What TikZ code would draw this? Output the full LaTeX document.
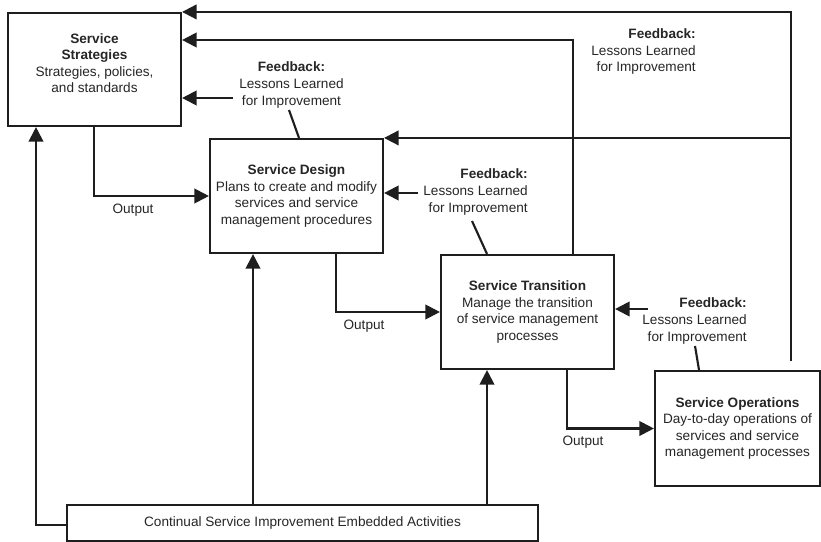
\documentclass[tikz,border=0pt]{standalone}
\usepackage{fontspec}
\setmainfont{Liberation Sans}
\usetikzlibrary{arrows.meta}
\definecolor{ink}{HTML}{1E1E1E}
\definecolor{txtc}{HTML}{262626}
\begin{document}
\begin{tikzpicture}[x=0.75pt,y=-0.75pt,
  box/.style={draw=ink,line width=1.6pt,fill=white,inner sep=0pt,align=center,text=txtc,font=\fontsize{10.2}{12.4}\selectfont},
  lbl/.style={inner sep=0pt,text=txtc,font=\fontsize{10.2}{12.4}\selectfont},
  conn/.style={draw=ink,line width=1.6pt},
  arr/.style={conn,-{Triangle[length=11pt,width=11pt]}},
]
\useasboundingbox (0,0) rectangle (821,542);

% boxes
\node[box,minimum width=129.75pt,minimum height=84.75pt] (strat) at (94.5,69.5) {};
\node[lbl,align=center] (strattxt) at (94.5,63) {\textbf{Service}\\\textbf{Strategies}\\Strategies, policies,\\and standards};
\node[box,minimum width=129.75pt,minimum height=85.5pt] (design) at (296.5,196) {\textbf{Service Design}\\Plans to create and modify\\services and service\\management procedures};
\node[box,minimum width=129.75pt,minimum height=85.5pt] (trans) at (527.5,312) {\textbf{Service Transition}\\Manage the transition\\of service management\\processes};
\node[box,minimum width=123.75pt,minimum height=86.25pt] (ops) at (737.5,428.5) {\textbf{Service Operations}\\Day-to-day operations of\\services and service\\management processes};
\node[box,minimum width=353.25pt,minimum height=27pt] (csi) at (302.5,523) {Continual Service Improvement Embedded Activities};

% feedback labels
\node[lbl,align=center] (fb1) at (291.5,85) {\textbf{Feedback:}\\Lessons Learned\\for Improvement};
\node[lbl,align=right,anchor=east] (fb2) at (528,192) {\textbf{Feedback:}\\Lessons Learned\\for Improvement};
\node[lbl,align=right,anchor=east] (fb3) at (696,51.5) {\textbf{Feedback:}\\Lessons Learned\\for Improvement};
\node[lbl,align=right,anchor=east] (fb4) at (747,321) {\textbf{Feedback:}\\Lessons Learned\\for Improvement};

% output labels
\node[lbl] (out1) at (133,210) {Output};
\node[lbl] (out2) at (364,326) {Output};
\node[lbl] (out3) at (583,442) {Output};

% feedback loops from the right
\coordinate (rtop) at (791,361);
\draw[arr] (rtop) |- (strat.north east);
\draw[arr] (rtop |- design.north) -- (design.north east);
\draw[arr] (trans.north -| 573,0) |- (strat.east |- 0,40);

% feedback arrows
\coordinate (f1s) at (233,98);
\coordinate (f2s) at (418,193);
\coordinate (f4s) at (648,309);
\draw[arr] (f1s) -- (f1s -| strat.east);
\draw[arr] (f2s) -- (f2s -| design.east);
\draw[arr] (f4s) -- (f4s -| trans.east);

% feedback tie lines
\coordinate (t1) at (289,110);
\coordinate (t2) at (472,221);
\coordinate (t4) at (695,346);
\draw[conn] (t1) -- (design.north -| 299,0);
\draw[conn] (t2) -- (trans.north -| 487,0);
\draw[conn] (t4) -- (ops.north -| 699,0);

% outputs
\draw[arr] (strat.south -| 94,0) |- (design.west);
\draw[arr] (design.south -| 336,0) |- (trans.west);
\draw[arr] (trans.south -| 567,0) |- (ops.west);

% continual service improvement
\draw[arr] (csi.west |- 0,525) -| (strat.south -| 36,0);
\draw[arr] (csi.north -| 253,0) -- (design.south -| 253,0);
\draw[arr] (csi.north -| 487,0) -- (trans.south -| 487,0);
\end{tikzpicture}
\end{document}
